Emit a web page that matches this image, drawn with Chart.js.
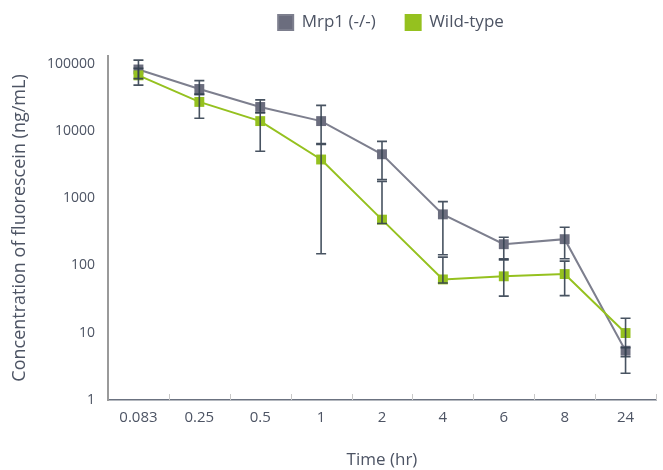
<!DOCTYPE html>
<html>
<head>
<meta charset="utf-8">
<script src="https://cdn.jsdelivr.net/npm/chart.js@4.4.1/dist/chart.umd.min.js"></script>
<style>
  html, body { margin: 0; padding: 0; background: #fff; }
</style>
</head>
<body>
<canvas id="chart" width="663" height="470"></canvas>
<script>
// Time points (hr) and y tick values
const timeLabels = ['0.083', '0.25', '0.5', '1', '2', '4', '6', '8', '24'];
const yTicks = [1, 10, 100, 1000, 10000, 100000];

// Mrp1 (-/-) mean and error bar ends (ng/mL)
const mrp1Values = [82000, 42000, 22700, 14000, 4500, 575, 207, 246, 5.4];
const mrp1Upper = [113000, 56000, 29000, 24000, 7000, 890, 263, 369, 6];
const mrp1Lower = [60000, 35000, 18600, 6500, 1900, 144, 126, 126, 2.5];

// Wild-type mean and error bar ends (ng/mL)
const wtValues = [67000, 27000, 14000, 3760, 480, 62, 69, 74.5, 9.9];
const wtUpper = [85000, 35000, 18600, 6300, 1780, 133, 121, 116, 16.4];
const wtLower = [48000, 15400, 5000, 149, 420, 55, 35, 35.6, 4.4];

const textColor = '#4d5464';
const fontFamily = '"Open Sans", "Noto Sans", sans-serif';

// Vertical error bars with caps, drawn over the markers
const errorBars = {
  id: 'errorBars',
  afterDatasetsDraw(chart) {
    const ctx = chart.ctx;
    const yScale = chart.scales.y;
    ctx.save();
    ctx.strokeStyle = 'rgba(52, 64, 80, 0.9)';
    ctx.lineWidth = 1.6;
    chart.data.datasets.forEach((ds, i) => {
      const meta = chart.getDatasetMeta(i);
      meta.data.forEach((pt, j) => {
        const yHi = yScale.getPixelForValue(ds.errUpper[j]);
        const yLo = yScale.getPixelForValue(ds.errLower[j]);
        ctx.beginPath();
        ctx.moveTo(pt.x, yHi);
        ctx.lineTo(pt.x, yLo);
        ctx.moveTo(pt.x - 5, yHi);
        ctx.lineTo(pt.x + 5, yHi);
        ctx.moveTo(pt.x - 5, yLo);
        ctx.lineTo(pt.x + 5, yLo);
        ctx.stroke();
      });
    });
    ctx.restore();
  }
};

// Short tick marks between categories, pointing up into the plot
const xTickMarks = {
  id: 'xTickMarks',
  afterDraw(chart) {
    const ctx = chart.ctx;
    const x = chart.scales.x;
    const bottom = chart.chartArea.bottom;
    ctx.save();
    ctx.strokeStyle = '#c9c9c9';
    ctx.lineWidth = 1;
    for (let i = 1; i <= timeLabels.length; i++) {
      const px = i < timeLabels.length
        ? (x.getPixelForTick(i - 1) + x.getPixelForTick(i)) / 2
        : chart.chartArea.right;
      ctx.beginPath();
      ctx.moveTo(Math.round(px) + 0.5, bottom - 6);
      ctx.lineTo(Math.round(px) + 0.5, bottom);
      ctx.stroke();
    }
    ctx.restore();
  }
};

// Extra room between legend and plot, and nudge legend right
const legendGap = {
  id: 'legendGap',
  beforeInit(chart) {
    const fit = chart.legend.fit;
    chart.legend.fit = function () {
      fit.call(this);
      this.height += 15;
    };
  },
  afterLayout(chart) {
    chart.legend.left += 9;
    chart.legend.right += 9;
  }
};

new Chart(document.getElementById('chart'), {
  type: 'line',
  data: {
    labels: timeLabels,
    datasets: [
      {
        label: 'Mrp1 (-/-)',
        data: mrp1Values,
        errUpper: mrp1Upper,
        errLower: mrp1Lower,
        borderColor: '#7d7f8e',
        backgroundColor: '#6b6d7e',
        pointBackgroundColor: '#6b6d7e',
        pointBorderColor: '#6b6d7e',
        borderWidth: 2,
        pointStyle: 'rect',
        pointRadius: 7,
        pointBorderWidth: 0,
        tension: 0,
        order: 1
      },
      {
        label: 'Wild-type',
        data: wtValues,
        errUpper: wtUpper,
        errLower: wtLower,
        borderColor: '#95c11f',
        backgroundColor: '#95c11f',
        pointBackgroundColor: '#95c11f',
        pointBorderColor: '#95c11f',
        borderWidth: 2,
        pointStyle: 'rect',
        pointRadius: 7,
        pointBorderWidth: 0,
        tension: 0,
        order: 0
      }
    ]
  },
  options: {
    responsive: false,
    animation: false,
    layout: {
      padding: { top: -16, right: 3, left: 0, bottom: 0 }
    },
    plugins: {
      legend: {
        position: 'top',
        fullSize: false,
        labels: {
          boxWidth: 15,
          boxHeight: 15,
          padding: 30,
          color: textColor,
          font: { family: fontFamily, size: 17 },
          sort: (a, b) => a.datasetIndex - b.datasetIndex
        }
      },
      tooltip: { enabled: false }
    },
    scales: {
      x: {
        type: 'category',
        offset: true,
        grid: { display: false, drawTicks: false },
        border: { display: true, color: '#6b7280', width: 1.5 },
        ticks: {
          padding: 9,
          color: textColor,
          font: { family: fontFamily, size: 15 }
        },
        title: {
          display: true,
          text: 'Time (hr)',
          color: textColor,
          font: { family: fontFamily, size: 17 },
          padding: { top: 0, bottom: 0 }
        },
        afterFit(scale) {
          scale.height = 70;
        }
      },
      y: {
        type: 'logarithmic',
        min: 1,
        max: 130000,
        grid: { display: false, drawTicks: false },
        border: { display: true, color: '#9a9a9a', width: 2 },
        afterBuildTicks(scale) {
          scale.ticks = yTicks.map(v => ({ value: v }));
        },
        ticks: {
          padding: 13,
          color: textColor,
          font: { family: fontFamily, size: 14 },
          callback: v => String(v)
        },
        title: {
          display: true,
          text: 'Concentration of fluorescein (ng/mL)',
          color: textColor,
          font: { family: fontFamily, size: 18 },
          padding: { top: 9, bottom: 0 }
        },
        afterFit(scale) {
          scale.width = 108;
        }
      }
    }
  },
  plugins: [errorBars, xTickMarks, legendGap]
});
</script>
</body>
</html>
